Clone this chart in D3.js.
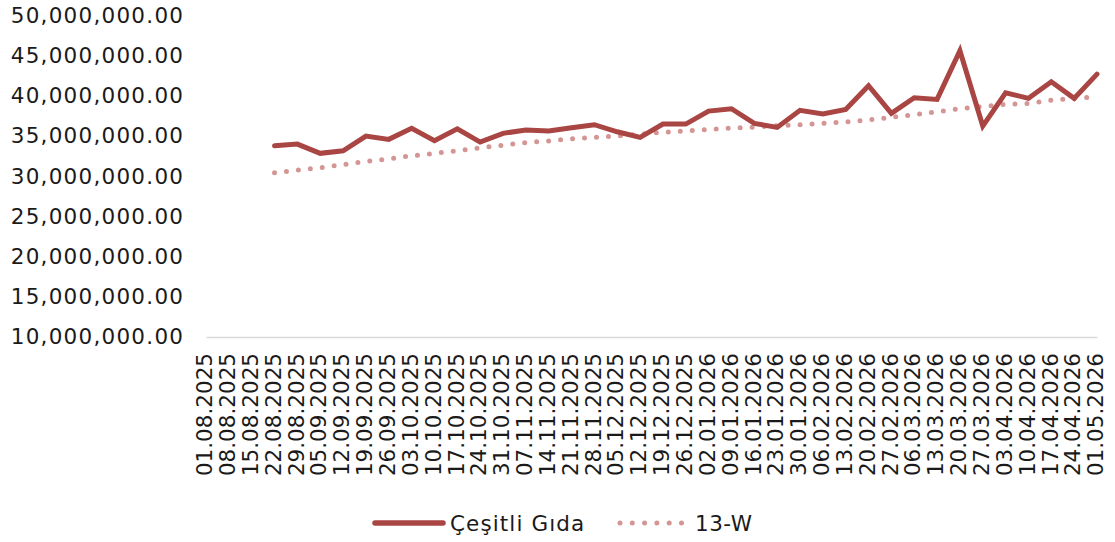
<!DOCTYPE html>
<html>
<head>
<meta charset="utf-8">
<script src="https://cdn.jsdelivr.net/npm/d3@7"></script>
<style>
  html, body { margin: 0; padding: 0; background: #fff; }
  svg { display: block; }
  text { font-family: "DejaVu Sans", sans-serif; fill: #1a1a1a; }
</style>
</head>
<body>
<svg id="chart" width="1115" height="542"></svg>
<script>
const categories = ["01.08.2025","08.08.2025","15.08.2025","22.08.2025","29.08.2025","05.09.2025","12.09.2025","19.09.2025","26.09.2025","03.10.2025","10.10.2025","17.10.2025","24.10.2025","31.10.2025","07.11.2025","14.11.2025","21.11.2025","28.11.2025","05.12.2025","12.12.2025","19.12.2025","26.12.2025","02.01.2026","09.01.2026","16.01.2026","23.01.2026","30.01.2026","06.02.2026","13.02.2026","20.02.2026","27.02.2026","06.03.2026","13.03.2026","20.03.2026","27.03.2026","03.04.2026","10.04.2026","17.04.2026","24.04.2026","01.05.2026"];

const cesitliGida = [null,null,null,33790000,34000000,32850000,33170000,35000000,34590000,35960000,34420000,35910000,34250000,35340000,35750000,35620000,36030000,36410000,35530000,34840000,36490000,36490000,38110000,38400000,36580000,36080000,38200000,37740000,38320000,41260000,37820000,39760000,39560000,45610000,36240000,40390000,39690000,41750000,39690000,42710000];

const w13 = [null,null,null,30430000,30750000,31050000,31450000,31850000,32150000,32550000,32850000,33150000,33550000,33850000,34200000,34400000,34650000,34850000,35020000,35250000,35460000,35650000,35830000,36000000,36120000,36300000,36420000,36580000,36740000,37000000,37330000,37650000,38020000,38400000,38690000,38950000,39070000,39450000,39690000,39890000];

const yTicks = [10000000,15000000,20000000,25000000,30000000,35000000,40000000,45000000,50000000];
const seriesNames = ["Çeşitli Gıda", "13-W"];

const svg = d3.select("#chart");
const x = d3.scalePoint().domain(categories).range([206, 1097]);
const y = d3.scaleLinear().domain([10000000, 50000000]).range([337, 15.5]);
const fmt = d3.format(",.2f");

// y axis labels
const yAxis = d3.axisLeft(y).tickValues(yTicks).tickFormat(fmt).tickSize(0).tickPadding(0);
const gy = svg.append("g").attr("transform", "translate(183,0)").call(yAxis);
gy.select(".domain").remove();
gy.selectAll("text").attr("font-size", "21.5px").attr("fill", "#1a1a1a")
  .attr("letter-spacing", "1.25px").attr("dx", "1.25px");

// x axis
const xAxis = d3.axisBottom(x).tickSize(0).tickPadding(0);
const gx = svg.append("g").attr("transform", "translate(0,337)").call(xAxis);
gx.select(".domain").attr("stroke", "#d9d9d9").attr("stroke-width", 1.5);
gx.selectAll("text")
  .attr("font-size", "21.5px").attr("fill", "#1a1a1a")
  .attr("text-anchor", "end")
  .attr("transform", "rotate(-90)")
  .attr("x", -16).attr("y", -2).attr("dy", "0.36em");

// lines
const lineFor = arr => d3.line()
  .defined(d => d.v != null)
  .x(d => x(d.c))
  .y(d => y(d.v))(arr.map((v, i) => ({c: categories[i], v})));

svg.append("path")
  .attr("d", lineFor(w13))
  .attr("fill", "none")
  .attr("stroke", "#d49595")
  .attr("stroke-width", 5)
  .attr("stroke-linecap", "round")
  .attr("stroke-dasharray", "0 12");

svg.append("path")
  .attr("d", lineFor(cesitliGida))
  .attr("fill", "none")
  .attr("stroke", "#a94542")
  .attr("stroke-width", 5)
  .attr("stroke-linejoin", "miter")
  .attr("stroke-linecap", "round");

// legend
const lg = svg.append("g");
lg.append("line").attr("x1", 375).attr("x2", 443).attr("y1", 523).attr("y2", 523)
  .attr("stroke", "#a94542").attr("stroke-width", 5.5).attr("stroke-linecap", "round");
lg.append("text").attr("x", 450).attr("y", 523).attr("dy", "0.36em")
  .attr("font-size", "21.5px").attr("letter-spacing", "1.1px").text(seriesNames[0]);
lg.append("line").attr("x1", 620).attr("x2", 682).attr("y1", 523).attr("y2", 523)
  .attr("stroke", "#d49595").attr("stroke-width", 5).attr("stroke-linecap", "round")
  .attr("stroke-dasharray", "0 12.3");
lg.append("text").attr("x", 695).attr("y", 523).attr("dy", "0.36em")
  .attr("font-size", "21.5px").attr("letter-spacing", "0.5px").text(seriesNames[1]);
</script>
</body>
</html>
